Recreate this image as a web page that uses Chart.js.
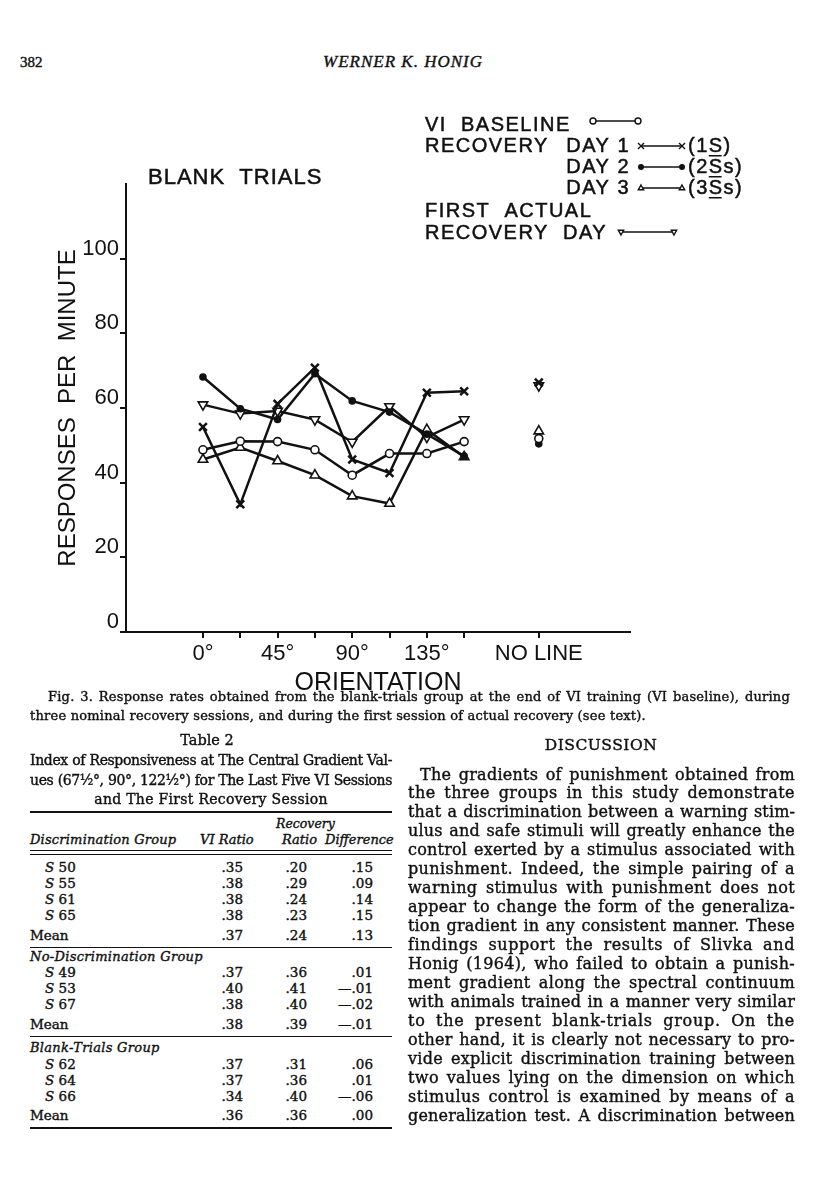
<!DOCTYPE html>
<html>
<head>
<meta charset="utf-8">
<script src="https://cdn.jsdelivr.net/npm/chart.js"></script>
<style>
  body { margin: 0; background: #fff; }
  #page { position: relative; width: 816px; height: 1200px; overflow: hidden; color: #111;
          font-family: "DejaVu Serif", serif; -webkit-text-stroke: 0.4px #111; }
  #chart { position: absolute; left: 0; top: 100px; }
  .rule { position: absolute; left: 30px; width: 362px; background: #111; }
</style>
</head>
<body>
<div id="page">
  <canvas id="chart" width="816" height="600"></canvas>
</div>
<script>
const ink = '#111';

// orientation of each test line (degrees), plus the "no line" test
const xPositions = [0, 22.5, 45, 67.5, 90, 112.5, 135, 157.5];
const noLineX = 202.5;
const xTickValues = [0, 22.5, 45, 67.5, 90, 112.5, 135, 157.5, 202.5];
const xTickLabels = ['0°', '', '45°', '', '90°', '', '135°', '', 'NO LINE'];
const yTickValues = [0, 20, 40, 60, 80, 100];

// responses per minute
const viBaseline   = [48.8, 51.1, 51.0, 48.8, 42.0, 47.8, 47.8, 51.0];
const recoveryDay1 = [54.9, 34.2, 61.1, 70.8, 46.2, 42.6, 64.1, 64.5];
const recoveryDay2 = [68.3, 59.8, 56.9, 69.2, 61.9, 58.9, 53.0, 47.1];
const recoveryDay3 = [46.2, 49.4, 45.8, 42.0, 36.4, 34.4, 54.2, 46.9];
const firstActual  = [60.9, 58.5, 59.2, 56.9, 50.9, 60.4, 52.2, 56.9];
// "no line" values, same order as the series above
const noLineValues = [51.8, 66.8, 50.4, 53.8, 66.0];

function seriesData(values, noLine) {
  const pts = values.map((v, i) => ({ x: xPositions[i], y: v }));
  pts.push({ x: 180, y: null });   // break the line before the no-line point
  pts.push({ x: noLineX, y: noLine });
  return pts;
}

function dataset(values, noLine, style) {
  return Object.assign({
    data: seriesData(values, noLine),
    borderColor: ink,
    borderWidth: 2.5,
    pointBorderColor: ink,
    pointBorderWidth: 1.6,
    pointBackgroundColor: '#fff',
    tension: 0
  }, style);
}

// legend drawn straight on the canvas, placed like the printed figure
function mark(ctx, style, x, y, r) {
  ctx.save();
  ctx.lineWidth = 1.4;
  ctx.strokeStyle = ink;
  ctx.fillStyle = '#fff';
  ctx.beginPath();
  if (style === 'circle') {
    ctx.arc(x, y, r, 0, Math.PI * 2); ctx.fill(); ctx.stroke();
  } else if (style === 'dot') {
    ctx.arc(x, y, r, 0, Math.PI * 2); ctx.fillStyle = ink; ctx.fill();
  } else if (style === 'cross') {
    ctx.moveTo(x - r, y - r); ctx.lineTo(x + r, y + r);
    ctx.moveTo(x + r, y - r); ctx.lineTo(x - r, y + r); ctx.stroke();
  } else if (style === 'tri') {
    ctx.moveTo(x, y - r); ctx.lineTo(x + r * 0.9, y + r * 0.6); ctx.lineTo(x - r * 0.9, y + r * 0.6);
    ctx.closePath(); ctx.fill(); ctx.stroke();
  } else if (style === 'itri') {
    ctx.moveTo(x, y + r); ctx.lineTo(x + r * 0.9, y - r * 0.6); ctx.lineTo(x - r * 0.9, y - r * 0.6);
    ctx.closePath(); ctx.fill(); ctx.stroke();
  }
  ctx.restore();
}

function sample(ctx, style, x1, x2, y) {
  ctx.save();
  ctx.strokeStyle = ink;
  ctx.lineWidth = 1.5;
  ctx.beginPath(); ctx.moveTo(x1, y); ctx.lineTo(x2, y); ctx.stroke();
  ctx.restore();
  mark(ctx, style, x1, y, 3);
  mark(ctx, style, x2, y, 3);
}

function text(ctx, t, x, y) {
  ctx.fillText(t, x, y);
  ctx.strokeText(t, x, y);
}

// text with one underlined piece, e.g. (1S) with the S underlined
function parts(ctx, list, x, y) {
  for (const [txt, under] of list) {
    const w = ctx.measureText(txt).width;
    text(ctx, txt, x, y);
    if (under) ctx.fillRect(x, y + 3, w - 2, 1.5);
    x += w;
  }
}

const legendPlugin = {
  id: 'pageLegend',
  afterDraw(chart) {
    const ctx = chart.ctx;
    const top = 100; // canvas offset on the page
    ctx.save();
    ctx.fillStyle = ink;
    ctx.strokeStyle = ink;
    ctx.lineWidth = 0.5;
    ctx.textBaseline = 'alphabetic';
    ctx.letterSpacing = '1px';
    ctx.font = '22px "Liberation Sans"';
    text(ctx, 'BLANK  TRIALS', 148, 184 - top);

    ctx.letterSpacing = '1.5px';
    ctx.font = '20px "Liberation Sans"';
    ctx.textAlign = 'left';
    text(ctx, 'VI  BASELINE', 425, 131 - top);
    text(ctx, 'RECOVERY', 425, 152 - top);
    text(ctx, 'FIRST  ACTUAL', 425, 217 - top);
    text(ctx, 'RECOVERY  DAY', 425, 239 - top);
    ctx.textAlign = 'right';
    text(ctx, 'DAY 1', 630, 152 - top);
    text(ctx, 'DAY 2', 630, 173 - top);
    text(ctx, 'DAY 3', 630, 194 - top);
    ctx.textAlign = 'left';
    parts(ctx, [['(1', false], ['S', true], [')', false]], 688, 152 - top);
    parts(ctx, [['(2', false], ['S', true], ['s)', false]], 688, 173 - top);
    parts(ctx, [['(3', false], ['S', true], ['s)', false]], 688, 194 - top);
    ctx.restore();

    sample(ctx, 'circle', 593, 638, 121 - top);
    sample(ctx, 'cross', 641, 682, 146 - top);
    sample(ctx, 'dot', 641, 682, 167 - top);
    sample(ctx, 'tri', 641, 682, 188 - top);
    sample(ctx, 'itri', 621, 674, 232 - top);
  }
};

new Chart(document.getElementById('chart'), {
  type: 'line',
  data: {
    datasets: [
      dataset(viBaseline, noLineValues[0], { label: 'VI BASELINE', pointStyle: 'circle', pointRadius: 4 }),
      dataset(recoveryDay1, noLineValues[1], { label: 'RECOVERY DAY 1', pointStyle: 'crossRot', pointRadius: 5.5, pointBorderWidth: 2.5 }),
      dataset(recoveryDay2, noLineValues[2], { label: 'DAY 2', pointStyle: 'circle', pointRadius: 3, pointBackgroundColor: ink }),
      dataset(recoveryDay3, noLineValues[3], { label: 'DAY 3', pointStyle: 'triangle', pointRadius: 5.5 }),
      dataset(firstActual, noLineValues[4], { label: 'FIRST ACTUAL RECOVERY DAY', pointStyle: 'triangle', pointRotation: 180, pointRadius: 5.5 })
    ]
  },
  options: {
    responsive: false,
    animation: false,
    spanGaps: false,
    layout: { padding: { left: 54, right: 186, top: 84, bottom: 2 } },
    plugins: { legend: { display: false }, tooltip: { enabled: false } },
    scales: {
      x: {
        type: 'linear',
        min: -46.4,
        max: 257.5,
        afterBuildTicks: s => { s.ticks = xTickValues.map(v => ({ value: v })); },
        afterFit: s => { s.height = 66; },
        grid: { drawOnChartArea: false, drawTicks: true, tickLength: 6, color: ink, lineWidth: 2 },
        border: { display: true, color: ink, width: 2 },
        ticks: {
          color: ink, padding: 3, maxRotation: 0, autoSkip: false,
          font: { family: 'Liberation Sans', size: 22 },
          callback: v => xTickLabels[xTickValues.indexOf(v)] || ''
        },
        title: { display: true, text: 'ORIENTATION', color: ink, padding: 0,
                 font: { family: 'Liberation Sans', size: 25 } }
      },
      y: {
        min: 0,
        max: 120,
        afterBuildTicks: s => { s.ticks = yTickValues.map(v => ({ value: v })); },
        afterFit: s => { s.width = 72; },
        grid: { drawOnChartArea: false, drawTicks: true, tickLength: 6, color: ink, lineWidth: 2 },
        border: { display: true, color: ink, width: 2 },
        ticks: { color: ink, padding: 1, labelOffset: -10,
                 font: { family: 'Liberation Sans', size: 22 } },
        title: { display: true, text: 'RESPONSES  PER  MINUTE', color: ink, padding: 0,
                 font: { family: 'Liberation Sans', size: 24 } }
      }
    }
  },
  plugins: [legendPlugin]
});

// ---- the printed page around the figure
const page = document.getElementById('page');
function line(html, x, cy, o) {
  o = o || {};
  const lh = o.lh || 20;
  const el = document.createElement('div');
  el.style.position = 'absolute';
  el.style.top = (cy - lh / 2) + 'px';
  el.style.height = lh + 'px';
  el.style.lineHeight = lh + 'px';
  el.style.fontSize = (o.size || 13) + 'px';
  el.style.whiteSpace = 'nowrap';
  if (o.family) el.style.fontFamily = o.family;
  if (o.italic) el.style.fontStyle = 'italic';
  if (o.ls !== undefined) el.style.letterSpacing = o.ls + 'px';
  el.innerHTML = html;
  if (o.width) {
    // fit the line to the column: spread letters a little, then justify the rest
    el.style.left = x + 'px';
    page.appendChild(el);
    const w = el.getBoundingClientRect().width;
    const n = el.textContent.length;
    let ls = (o.width - w) * 0.5 / n;
    ls = Math.max(-1.5, Math.min(1.0, ls));
    if (w + ls * n > o.width - 1) ls = (o.width - w - 2) / n;
    el.style.letterSpacing = ls + 'px';
    el.style.width = o.width + 'px';
    el.style.whiteSpace = 'normal';
    el.style.textAlign = 'justify';
    el.style.textAlignLast = 'justify';
    return ls;
  }
  if (o.align === 'right') {
    el.style.right = (816 - x) + 'px';
  } else if (o.align === 'center') {
    el.style.left = (x - 250) + 'px';
    el.style.width = '500px';
    el.style.textAlign = 'center';
  } else {
    el.style.left = x + 'px';
  }
  page.appendChild(el);
  return 0;
}
function rule(y, h) {
  const r = document.createElement('div');
  r.className = 'rule';
  r.style.top = y + 'px';
  r.style.height = h + 'px';
  page.appendChild(r);
}

const times = '"Liberation Serif", serif';

// running head
line('382', 20, 62, { size: 15, family: times });
line('WERNER K. HONIG', 403, 62, { size: 17, italic: true, align: 'center', ls: 1, family: times });

// figure caption
const capLs = line('Fig. 3. Response rates obtained from the blank-trials group at the end of VI training (VI baseline), during',
     48, 697, { size: 13, width: 742 });
line('three nominal recovery sessions, and during the first session of actual recovery (see text).', 30, 716,
     { size: 13, ls: capLs });

// table 2
line('Table 2', 207, 740, { size: 14.5, align: 'center' });
line('Index of Responsiveness at The Central Gradient Val-', 30, 760, { size: 14, width: 362 });
line('ues (67½°, 90°, 122½°) for The Last Five VI Sessions', 30, 780, { size: 14, width: 362 });
line('and The First Recovery Session', 211, 799, { size: 14, align: 'center', ls: 0.3 });
rule(811, 1.6);
line('Recovery', 276, 824, { size: 12.5, italic: true });
line('Discrimination Group', 30, 840, { size: 13, italic: true, ls: 0.2 });
line('VI Ratio', 200, 840, { size: 13, italic: true });
line('Ratio', 282, 840, { size: 13, italic: true });
line('Difference', 325, 840, { size: 13, italic: true });
rule(850, 1);
rule(853.5, 1);

function row(label, a, b, c, y) {
  line(label, label === 'Mean' ? 30 : 45, y, { size: 13.5 });
  line(a, 243, y, { size: 13.5, align: 'right' });
  line(b, 307, y, { size: 13.5, align: 'right' });
  line(c, 373, y, { size: 13.5, align: 'right' });
}
row('<i>S</i> 50', '.35', '.20', '.15', 867);
row('<i>S</i> 55', '.38', '.29', '.09', 883);
row('<i>S</i> 61', '.38', '.24', '.14', 899);
row('<i>S</i> 65', '.38', '.23', '.15', 915);
row('Mean', '.37', '.24', '.13', 935);
rule(947, 1);
line('No-Discrimination Group', 30, 957, { size: 13, italic: true, ls: 0.3 });
row('<i>S</i> 49', '.37', '.36', '.01', 972);
row('<i>S</i> 53', '.40', '.41', '—.01', 988);
row('<i>S</i> 67', '.38', '.40', '—.02', 1004);
row('Mean', '.38', '.39', '—.01', 1024);
rule(1036, 1);
line('Blank-Trials Group', 30, 1048, { size: 13, italic: true, ls: 0.3 });
row('<i>S</i> 62', '.37', '.31', '.06', 1064);
row('<i>S</i> 64', '.37', '.36', '.01', 1080);
row('<i>S</i> 66', '.34', '.40', '—.06', 1096);
row('Mean', '.36', '.36', '.00', 1115);
rule(1127, 1.6);

// discussion column
line('DISCUSSION', 601, 745, { size: 15.5, align: 'center', ls: 0.5 });
const discussion = [
  'The gradients of punishment obtained from',
  'the three groups in this study demonstrate',
  'that a discrimination between a warning stim-',
  'ulus and safe stimuli will greatly enhance the',
  'control exerted by a stimulus associated with',
  'punishment. Indeed, the simple pairing of a',
  'warning stimulus with punishment does not',
  'appear to change the form of the generaliza-',
  'tion gradient in any consistent manner. These',
  'findings support the results of Slivka and',
  'Honig (1964), who failed to obtain a punish-',
  'ment gradient along the spectral continuum',
  'with animals trained in a manner very similar',
  'to the present blank-trials group. On the',
  'other hand, it is clearly not necessary to pro-',
  'vide explicit discrimination training between',
  'two values lying on the dimension on which',
  'stimulus control is examined by means of a',
  'generalization test. A discrimination between'
];
discussion.forEach((t, i) => {
  const indent = i === 0 ? 12 : 0;
  line(t, 408 + indent, 774 + i * 18.95, { size: 16, width: 387 - indent, lh: 19 });
});
</script>
</body>
</html>
